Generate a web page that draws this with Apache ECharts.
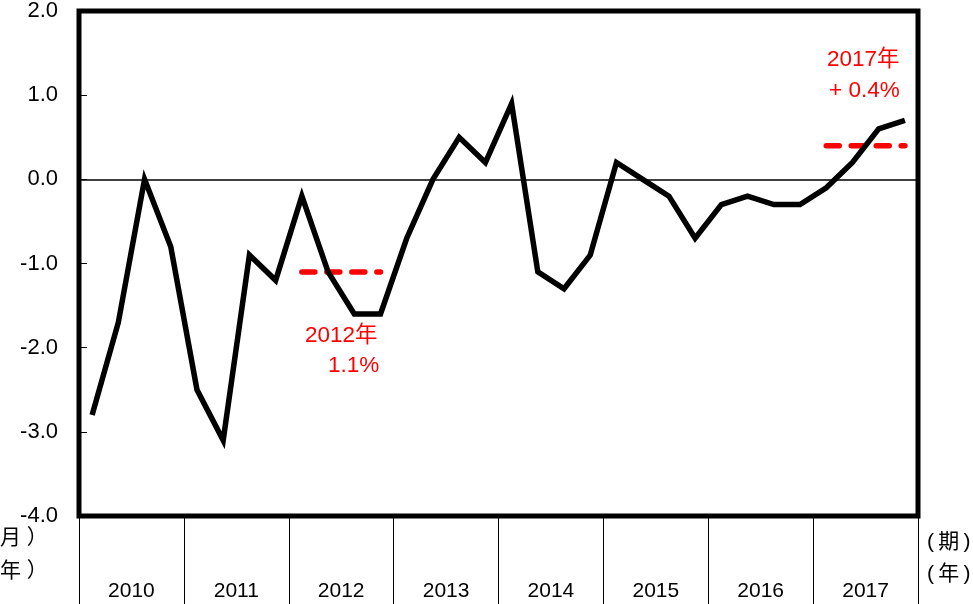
<!DOCTYPE html>
<html>
<head>
<meta charset="utf-8">
<script src="https://cdn.jsdelivr.net/npm/echarts@6/dist/echarts.min.js"></script>
<style>html,body{margin:0;padding:0;background:#fff;}#c{width:973px;height:604px;}</style>
</head>
<body>
<div id="c"></div>
<script>
const years = ['2010','2011','2012','2013','2014','2015','2016','2017'];
const quarters = ['1','2','3','4'];
const values = [
  -2.8, -1.7, 0.0, -0.8,
  -2.5, -3.1, -0.9, -1.2,
  -0.2, -1.1, -1.6, -1.6,
  -0.7, 0.0, 0.5, 0.2,
  0.9, -1.1, -1.3, -0.9,
  0.2, 0.0, -0.2, -0.7,
  -0.3, -0.2, -0.3, -0.3,
  -0.1, 0.2, 0.6, 0.7
];
const avgYears = ['2012', '2017'];
const avgValues = [-1.1, 0.4];
const yTicks = { min: -4, max: 2, interval: 1 };

const qCats = [];
years.forEach(y => quarters.forEach(q => qCats.push(y + 'Q' + q)));

const avgSeries = avgYears.map((yr, k) => {
  const d = qCats.map(c => (c.slice(0, 4) === yr ? avgValues[k] : null));
  return {
    type: 'line', data: d, xAxisIndex: 0, symbol: 'none', connectNulls: false,
    lineStyle: { color: '#ff0000', width: 5.5, type: [13, 12], cap: 'round' },
    z: 3, silent: true
  };
});

const font = 'Liberation Sans, Arial, Noto Sans CJK JP, sans-serif';
const chart = echarts.init(document.getElementById('c'), null, { renderer: 'canvas' });
chart.setOption({
  animation: false,
  backgroundColor: '#fff',
  grid: { left: 79, top: 10, right: 55, bottom: 88, show: true, borderColor: '#000', borderWidth: 5, backgroundColor: 'transparent', z: 10 },
  xAxis: [
    { type: 'category', data: qCats, boundaryGap: true, position: 'bottom',
      axisLine: { show: false }, axisTick: { show: false }, axisLabel: { show: false }, splitLine: { show: false } },
    { type: 'category', data: years, boundaryGap: true, position: 'bottom',
      axisLine: { show: false },
      axisTick: { show: true, length: 92, interval: 0, lineStyle: { color: '#000', width: 1 } },
      axisLabel: { show: true, margin: 65, color: '#000', fontSize: 21, fontFamily: font, interval: 0 },
      splitLine: { show: false } }
  ],
  yAxis: {
    type: 'value', min: yTicks.min, max: yTicks.max, interval: yTicks.interval,
    axisLine: { show: false },
    axisTick: { show: true, inside: true, length: 8, lineStyle: { color: '#000', width: 1 } },
    axisLabel: { color: '#000', fontSize: 22, fontFamily: font, margin: 21, formatter: v => v.toFixed(1) },
    splitLine: { show: false }
  },
  series: [
    { type: 'line', data: values, xAxisIndex: 0, symbol: 'none', z: 4, silent: true,
      lineStyle: { color: '#000', width: 5.5, join: 'miter' },
      markLine: { silent: true, symbol: 'none', label: { show: false },
        lineStyle: { color: '#000', width: 1.5, type: 'solid' },
        data: [{ yAxis: 0 }] } },
    ...avgSeries
  ],
  graphic: [
    { type: 'text', left: 305, top: 325, style: { text: '2012年', fill: '#ff0000', font: '22.5px ' + font } },
    { type: 'text', left: 328, top: 355, style: { text: '1.1%', fill: '#ff0000', font: '22.5px ' + font } },
    { type: 'text', left: 827, top: 49, style: { text: '2017年', fill: '#ff0000', font: '22.5px ' + font } },
    { type: 'text', left: 829, top: 80, style: { text: '+ 0.4%', fill: '#ff0000', font: '22.5px ' + font } },
    { type: 'text', left: -21, top: 528, style: { text: '（月 ）', fill: '#000', font: '21px ' + font } },
    { type: 'text', left: -21, top: 561, style: { text: '（年 ）', fill: '#000', font: '21px ' + font } },
    { type: 'text', left: 927, top: 532, style: { text: '(\u2009期\u2009)', fill: '#000', font: '21px ' + font } },
    { type: 'text', left: 927, top: 564, style: { text: '(\u2009年\u2009)', fill: '#000', font: '21px ' + font } }
  ]
});
</script>
</body>
</html>
